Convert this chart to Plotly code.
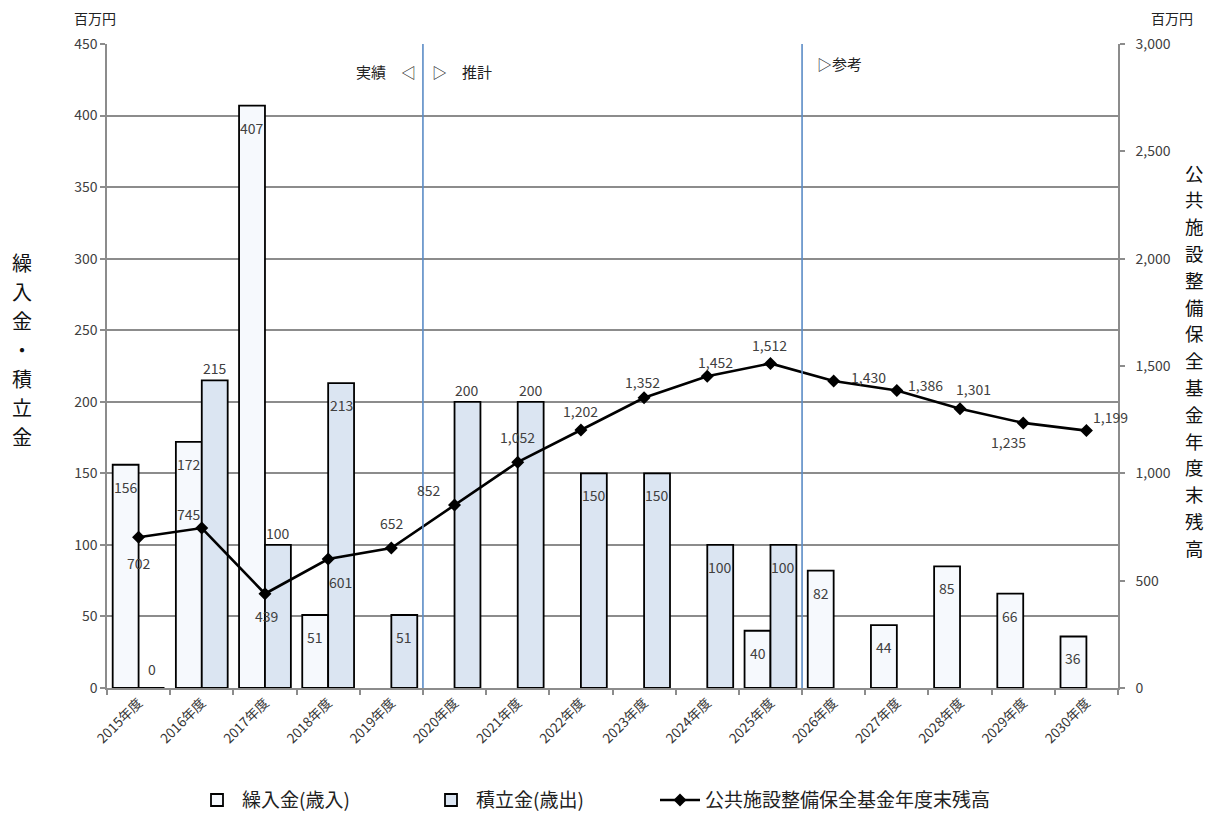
import plotly.graph_objects as go

# Fiscal years
years = ["2015年度", "2016年度", "2017年度", "2018年度", "2019年度", "2020年度",
         "2021年度", "2022年度", "2023年度", "2024年度", "2025年度", "2026年度",
         "2027年度", "2028年度", "2029年度", "2030年度"]

# 繰入金（歳入） — 百万円
transfer_in = [156, 172, 407, 51, None, None, None, None, None, None, 40, 82, 44, 85, 66, 36]
# 積立金（歳出） — 百万円
reserve_out = [0, 215, 100, 213, 51, 200, 200, 150, 150, 100, 100, None, None, None, None, None]
# 公共施設整備保全基金年度末残高 — 百万円
fund_balance = [702, 745, 439, 601, 652, 852, 1052, 1202, 1352, 1452, 1512, 1430, 1386, 1301, 1235, 1199]

left_ticks = list(range(0, 451, 50))
right_ticks = list(range(0, 3001, 500))

left_title = "繰入金・積立金"
right_title = "公共施設整備保全基金年度末残高"

# label placement: "in" = just inside bar top, "out" = above bar top
transfer_label_side = ["in"] * 16
reserve_label_side = ["in", "out", "out", "in", "in", "out", "out", "in", "in", "in", "in",
                      None, None, None, None, None]
# pixel offsets (dx, dy) of the balance labels from their markers
balance_label_offset = [(0, -26), (-13, 14), (2, -22), (12, -23), (1, 25), (-26, 15),
                        (0, 25), (0, 19), (-2, 16), (8, 14), (-1, 18), (35, 4),
                        (29, 5), (13, 20), (-15, -19), (24, 14)]

FONT = "Noto Sans CJK JP"
GRID = "#8c8c8c"
TXT = "#404040"
DIVIDER = "#5b8cc6"

xs = list(range(len(years)))

fig = go.Figure()
fig.add_trace(go.Bar(
    x=xs, y=transfer_in, name="繰入金(歳入)", legend="legend",
    marker=dict(color="#f6f9fd", line=dict(color="#000000", width=1.8)),
))
fig.add_trace(go.Bar(
    x=xs, y=reserve_out, name="積立金(歳出)", legend="legend2",
    marker=dict(color="#dbe5f2", line=dict(color="#000000", width=1.8)),
))
fig.add_trace(go.Scatter(
    x=xs, y=fund_balance, name="公共施設整備保全基金年度末残高", yaxis="y2",
    legend="legend3", mode="lines+markers",
    line=dict(color="#000000", width=2.6),
    marker=dict(symbol="diamond", size=10, color="#000000"),
))

annotations = []
half = 0.205
for i, v in enumerate(transfer_in):
    if v is None:
        continue
    side = transfer_label_side[i]
    annotations.append(dict(x=i - half, y=v, xref="x", yref="y", text=str(v),
                            showarrow=False, xanchor="center", yanchor="middle",
                            yshift=(-22 if side == "in" else 12),
                            font=dict(size=14, color=TXT, family=FONT)))
for i, v in enumerate(reserve_out):
    if v is None:
        continue
    side = reserve_label_side[i]
    shift = 19 if v == 0 else (-22 if side == "in" else 12)
    annotations.append(dict(x=i + half, y=v, xref="x", yref="y", text=str(v),
                            showarrow=False, xanchor="center", yanchor="middle",
                            yshift=shift,
                            font=dict(size=14, color=TXT, family=FONT)))
for i, v in enumerate(fund_balance):
    dx, dy = balance_label_offset[i]
    annotations.append(dict(x=i, y=v, xref="x", yref="y2", text=f"{v:,}",
                            showarrow=False, xanchor="center", yanchor="middle",
                            xshift=dx, yshift=dy,
                            font=dict(size=14, color=TXT, family=FONT)))

# period markers
annotations += [
    dict(x=4.5, y=0.958, xref="x", yref="paper", text="実績　◁", showarrow=False,
         xanchor="right", yanchor="middle", xshift=-5,
         font=dict(size=15, color="#222222", family=FONT)),
    dict(x=4.5, y=0.958, xref="x", yref="paper", text="▷　推計", showarrow=False,
         xanchor="left", yanchor="middle", xshift=7,
         font=dict(size=15, color="#222222", family=FONT)),
    dict(x=10.5, y=0.969, xref="x", yref="paper", text="▷参考", showarrow=False,
         xanchor="left", yanchor="middle", xshift=13,
         font=dict(size=15, color="#222222", family=FONT)),
]

# units
annotations += [
    dict(x=-0.012, y=1.040, xref="paper", yref="paper", text="百万円", showarrow=False,
         xanchor="center", yanchor="middle",
         font=dict(size=14, color="#222222", family=FONT)),
    dict(x=1.053, y=1.040, xref="paper", yref="paper", text="百万円", showarrow=False,
         xanchor="center", yanchor="middle",
         font=dict(size=14, color="#222222", family=FONT)),
]


def stacked_title(text, x, y, size, step):
    """Vertical axis title: one character per annotation, stacked top to bottom."""
    n = len(text)
    out = []
    for k, ch in enumerate(text):
        out.append(dict(x=x, y=y, xref="paper", yref="paper", text=ch, showarrow=False,
                        xanchor="center", yanchor="middle",
                        yshift=((n - 1) / 2 - k) * step,
                        font=dict(size=size, color="#111111", family=FONT)))
    return out


annotations += stacked_title(left_title, -0.084, 0.525, 20, 29)
annotations += stacked_title(right_title, 1.076, 0.509, 18.5, 26.8)

shapes = [
    dict(type="line", xref="x", yref="paper", x0=b, x1=b, y0=0, y1=1,
         line=dict(color=DIVIDER, width=1.6), layer="above")
    for b in (4.5, 10.5)
]


def legend_at(xpx):
    return dict(orientation="h", xref="container", yref="container",
                x=xpx / 1209, xanchor="left", y=0.017, yanchor="middle",
                font=dict(size=19, color="#222222", family=FONT),
                itemwidth=40, bgcolor="rgba(0,0,0,0)")


fig.update_layout(
    width=1209, height=814,
    margin=dict(l=107, r=91, t=44, b=126),
    paper_bgcolor="white", plot_bgcolor="white",
    barmode="group", bargap=0.18, bargroupgap=0,
    font=dict(family=FONT, color=TXT, size=14),
    showlegend=True,
    legend=legend_at(192),
    legend2=legend_at(426),
    legend3=legend_at(655),
    annotations=annotations,
    shapes=shapes,
    xaxis=dict(
        range=[-0.5, len(years) - 0.5],
        tickmode="array", tickvals=xs, ticktext=years, tickangle=-45,
        tickfont=dict(size=13.5, color="#333333", family=FONT),
        ticks="", showgrid=False, zeroline=False,
        showline=True, linecolor=GRID, linewidth=1.5,
        minor=dict(tickmode="array", tickvals=[i - 0.5 for i in range(len(years) + 1)],
                   ticks="outside", ticklen=5, tickcolor=GRID, tickwidth=1.5,
                   showgrid=False),
        automargin=False,
    ),
    yaxis=dict(
        range=[0, 450], tickmode="array", tickvals=left_ticks,
        ticks="outside", ticklen=5, tickcolor=GRID, tickwidth=1.5,
        showgrid=True, gridcolor=GRID, gridwidth=1.5,
        zeroline=False, showline=True, linecolor=GRID, linewidth=1.5,
        tickfont=dict(size=14, color=TXT, family=FONT),
        automargin=False,
    ),
    yaxis2=dict(
        range=[0, 3000], overlaying="y", side="right",
        tickmode="array", tickvals=right_ticks, tickformat=",",
        ticks="outside", ticklen=5, tickcolor=GRID, tickwidth=1.5,
        ticklabelstandoff=8,
        showgrid=False, zeroline=False,
        showline=True, linecolor=GRID, linewidth=1.5,
        tickfont=dict(size=14, color=TXT, family=FONT),
        automargin=False,
    ),
)

fig.write_html("out.html")
